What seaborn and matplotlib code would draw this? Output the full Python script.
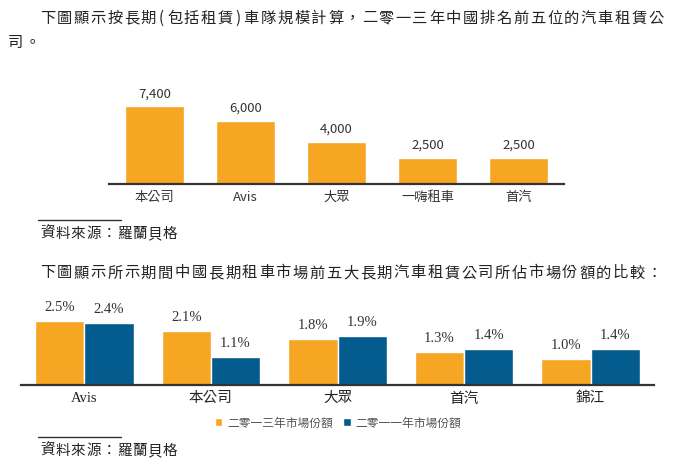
import matplotlib
matplotlib.use("Agg")
import matplotlib.pyplot as plt
import pandas as pd
import seaborn as sns

# ──────────────────────────────────────────────
# Data
# ──────────────────────────────────────────────

fleet_companies = ["本公司", "Avis", "大眾", "一嗨租車", "首汽"]
fleet_size = [7400, 6000, 4000, 2500, 2500]

share_companies = ["Avis", "本公司", "大眾", "首汽", "錦江"]
share_2013 = [2.5, 2.1, 1.8, 1.3, 1.0]
share_2011 = [2.4, 1.1, 1.9, 1.4, 1.4]
series_names = ["二零一三年市場份額", "二零一一年市場份額"]

para1_line1 = "下圖顯示按長期(包括租賃)車隊規模計算，二零一三年中國排名前五位的汽車租賃公"
para1_line2 = "司。"
para2 = "下圖顯示所示期間中國長期租車市場前五大長期汽車租賃公司所佔市場份額的比較："
source_text = "資料來源：羅蘭貝格"

ORANGE = "#F6A623"
BLUE = "#035B8E"
AXIS = "#333333"

W, H = 680, 474

sns.set_style("white")
plt.rcParams["font.family"] = ["Noto Sans CJK TC", "DejaVu Sans"]

fig = plt.figure(figsize=(W / 100, H / 100), dpi=100)


def px_axes(x0, x1, y_top, y_bottom):
    """Add axes using pixel edges measured from the top-left corner."""
    return fig.add_axes([x0 / W, 1 - y_bottom / H, (x1 - x0) / W, (y_bottom - y_top) / H])


def spaced_text(s, x0, y, pitch, size=11, color="#222222"):
    """Lay out CJK text with a fixed character pitch (justified look)."""
    x = x0
    for ch in s:
        w = 0.55 if ch in "()" else 1.0
        fig.text((x + pitch * w / 2) / W, 1 - y / H, ch, ha="center", va="center",
                 fontsize=size, color=color)
        x += pitch * w


def source_note(y_rule):
    fig.add_artist(plt.Line2D([38 / W, 121 / W], [1 - y_rule / H] * 2,
                              color="#333333", lw=1.0))
    spaced_text(source_text, 40, y_rule + 14, 15.3, size=10.5)


# ──────────────────────────────────────────────
# Paragraph text
# ──────────────────────────────────────────────

spaced_text(para1_line1, 39, 18, 16.85)
spaced_text(para1_line2, 7, 42, 16.85)
spaced_text(para2, 39, 273, 16.85)

# ──────────────────────────────────────────────
# Top chart: fleet size
# ──────────────────────────────────────────────

ax1 = px_axes(109, 564, 80, 184)
sns.barplot(x=fleet_companies, y=fleet_size, color=ORANGE, saturation=1,
            width=0.65, ax=ax1)
ax1.set_xlim(-0.5, 4.5)
ax1.set_ylim(0, 104 / 0.01058)
ax1.bar_label(ax1.containers[0], labels=[f"{v:,}" for v in fleet_size],
              padding=4, fontsize=9.5, color="#333333")
ax1.tick_params(axis="x", length=0, pad=5, labelsize=9.5, labelcolor="#333333")
ax1.set_yticks([])
for side in ["top", "left", "right"]:
    ax1.spines[side].set_visible(False)
ax1.spines["bottom"].set_color(AXIS)
ax1.spines["bottom"].set_linewidth(1.6)
ax1.set_facecolor("none")

source_note(220)

# ──────────────────────────────────────────────
# Bottom chart: market share
# ──────────────────────────────────────────────

df_share = pd.DataFrame({
    "company": share_companies * 2,
    "share": share_2013 + share_2011,
    "year": [series_names[0]] * 5 + [series_names[1]] * 5,
})

ax2 = px_axes(21, 654, 290, 385)
sns.barplot(data=df_share, x="company", y="share", hue="year", hue_order=series_names,
            palette=[ORANGE, BLUE], saturation=1, width=0.78, ax=ax2)
ax2.set_xlim(-0.5, 4.5)
ax2.set_ylim(0, 95 / 25.7)
for cont, vals in zip(ax2.containers, [share_2013, share_2011]):
    ax2.bar_label(cont, labels=[f"{v:.1f}%" for v in vals], padding=5,
                  fontsize=10.5, color="#333333", family=["Liberation Serif", "Noto Sans CJK TC"])
ax2.tick_params(axis="x", length=0, pad=5, labelsize=10.5, labelcolor="#222222")
for lbl in ax2.get_xticklabels():
    lbl.set_family(["Liberation Serif", "Noto Sans CJK TC"])
ax2.set_yticks([])
ax2.set_xlabel("")
ax2.set_ylabel("")
for side in ["top", "left", "right"]:
    ax2.spines[side].set_visible(False)
ax2.spines["bottom"].set_color(AXIS)
ax2.spines["bottom"].set_linewidth(1.6)
ax2.set_facecolor("none")

handles, labels = ax2.get_legend_handles_labels()
ax2.legend(handles, labels, loc="center", bbox_to_anchor=(338 / W, 1 - 423 / H),
           bbox_transform=fig.transFigure, ncol=2, frameon=False, fontsize=8.5,
           handlelength=0.65, handleheight=0.65, handletextpad=0.4,
           columnspacing=0.9, labelcolor="#555555")

source_note(437)

fig.savefig("out.png", dpi=100)
